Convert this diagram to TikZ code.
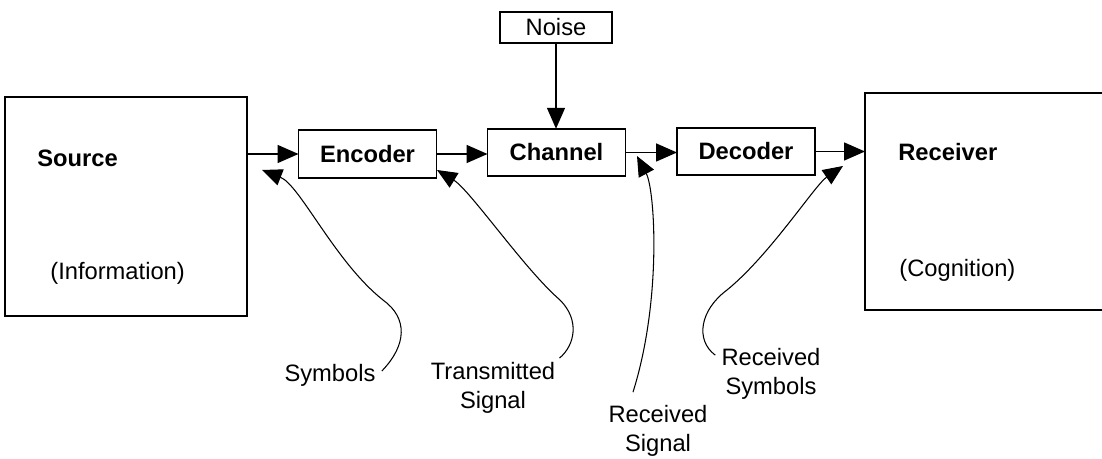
\documentclass[tikz,border=0pt]{standalone}
\usepackage{fontspec}
\setmainfont{Liberation Sans}
\usepackage{tikz}
\usetikzlibrary{arrows.meta}

\begin{document}
\begin{tikzpicture}[x=0.02cm, y=-0.02cm,
        block/.style={rectangle, draw, line width=0.9pt, inner sep=0pt, outer sep=0pt, minimum width=2.76cm, minimum height=0.95cm, font=\fontsize{13.5}{16.5}\selectfont\bfseries},
        bigbox/.style={rectangle, draw, line width=0.9pt, inner sep=0pt, outer sep=0pt, minimum width=4.84cm, minimum height=4.38cm},
        txt/.style={inner sep=0pt, font=\fontsize{13.5}{16.5}\selectfont},
        note/.style={txt, align=center},
        line/.style={draw, line width=0.9pt, -{Triangle[length=0.42cm, width=0.36cm]}},
        pointer/.style={draw, line width=0.6pt, -{Triangle[length=0.4cm, width=0.34cm]}}]
        \useasboundingbox (0,0) rectangle (1102,459);

        \node [bigbox] (source) at (126,206.5) {};
        \node [txt, anchor=west, font=\fontsize{13.5}{16.5}\selectfont\bfseries] (srcname) at (37,158) {Source};
        \node [txt, anchor=west] (srcinfo) at (50,273) {(Information)};

        \node [bigbox, draw=none, minimum width=4.74cm, minimum height=4.34cm, anchor=north west] (recv) at (865,93) {};
        \draw [line width=0.9pt] (recv.north east) -- (recv.north west) -- (recv.south west) -- (recv.south east);
        \node [txt, anchor=west, font=\fontsize{13.5}{16.5}\selectfont\bfseries] (recvname) at (898,152) {Receiver};
        \node [txt, anchor=west] (recvinfo) at (899,270) {(Cognition)};

        \node [block] (enc) at (367.5,154) {Encoder};
        \node [block] (chan) at (556.5,152.5) {Channel};
        \node [block] (dec) at (746,151.5) {Decoder};
        \node [block, minimum width=2.24cm, minimum height=0.62cm, font=\fontsize{13.5}{16.5}\selectfont] (noise) at (556,27.5) {Noise};

        \path [line] (source.east |- enc.west) -- (enc.west);
        \path [line] (enc.east) -- (enc.east -| chan.west);
        \path [line] (chan.east) -- (chan.east -| dec.west);
        \path [line] (dec.east) -- (dec.east -| recv.west);
        \path [line] (noise.south) -- (noise.south |- chan.north);

        \node [note] (symbols) at (330,375) {Symbols};
        \node [note] (txsig) at (493,388) {Transmitted\\Signal};
        \node [note] (rxsig) at (658,431) {Received\\Signal};
        \node [note] (rxsym) at (771,374) {Received\\Symbols};

        \coordinate (symtip) at (262,170);
        \coordinate (txtip) at (437,170);
        \coordinate (rxtip) at (637,156);
        \coordinate (symrxtip) at (843,166);

        \path [pointer] (symbols.east) ++(6,-4) .. controls (407,345) and (408,318) .. (383,300)
            .. controls (335,262) and (300,185) .. (symtip);
        \path [pointer] (txsig.north east) ++(4,-4) .. controls (575,345) and (580,320) .. (560,300)
            .. controls (525,270) and (470,190) .. (txtip);
        \path [pointer] (rxsig.north) ++(-25,-13) .. controls (662,300) and (655,190) .. (rxtip);
        \path [pointer] (rxsym.north west) ++(-6,7) .. controls (695,340) and (700,310) .. (727,290)
            .. controls (770,255) and (815,185) .. (symrxtip);
    \end{tikzpicture}
\end{document}
